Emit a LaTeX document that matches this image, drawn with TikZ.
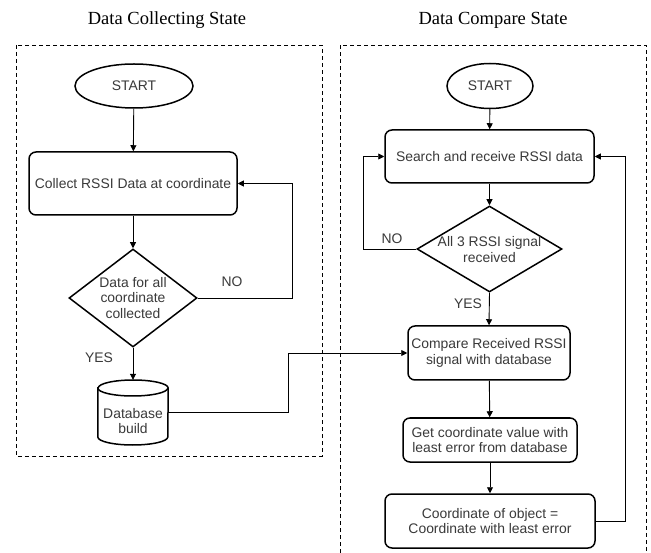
\documentclass[tikz,border=0pt]{standalone}
\usepackage{fontspec}
\setmainfont{Liberation Sans}
\newfontfamily\titlefont{Liberation Serif}
\usetikzlibrary{shapes.geometric,arrows.meta}
\definecolor{txt}{HTML}{3A3A3A}
\begin{document}
\begin{tikzpicture}[x=1pt,y=-1pt,
  every node/.style={font=\fontsize{13.9}{15.5}\selectfont, text=txt},
  term/.style={ellipse, draw=black, line width=1.5pt, inner sep=0pt},
  proc/.style={rectangle, rounded corners=7pt, draw=black, line width=1.5pt, inner sep=0pt, align=center},
  dec/.style={diamond, draw=black, line width=1.5pt, inner sep=0pt},
  lbl/.style={align=center, inner sep=0pt},
  frame/.style={draw=black, line width=0.8pt, dash pattern=on 4pt off 3pt},
  conn/.style={draw=black, line width=0.9pt, -{Triangle[length=6pt,width=6pt]}},
  ttl/.style={font=\titlefont\fontsize{18.5}{20}\selectfont, text=black, inner sep=0pt, anchor=base}
]
\useasboundingbox (0,0) rectangle (651,553);
\fill[white] (0,0) rectangle (651,553);

% titles
\node[ttl] (t1) at (167,25) {Data Collecting State};
\node[ttl] (t2) at (493,25) {Data Compare State};

% frames
\draw[frame] (16,45) rectangle (322,456);
\draw[frame] (340,553) -- (340,45) -- (646,45) -- (646,553);

% ---------- left ----------
\node[term, minimum width=118, minimum height=44] (s1) at (134,86) {START};
\node[proc, minimum width=208, minimum height=63] (c1) at (133,183.5) {Collect RSSI Data at coordinate};
\node[dec, minimum width=128, minimum height=98] (d1) at (133,298) {};
\node[lbl] (d1t) at (133,298) {Data for all\\coordinate\\collected};
\node[minimum width=70, minimum height=65, inner sep=0pt] (db) at (133,412.5) {};
\draw[line width=1.5pt, fill=white] (db.west |- 0,388) -- (db.west |- 0,437)
   arc[start angle=180, end angle=360, x radius=35pt, y radius=8pt]
   -- (db.east |- 0,388)
   arc[start angle=0, end angle=180, x radius=35pt, y radius=8pt] -- cycle;
\draw[line width=1.5pt] (db.west |- 0,388) arc[start angle=180, end angle=360, x radius=35pt, y radius=8pt];
\node[lbl] (dbt) at (133,421) {Database\\build};

\node[lbl] (no1) at (232,282) {NO};
\node[lbl] (yes1) at (99,358) {YES};

\draw[conn] (s1) -- (c1);
\draw[conn] (c1) -- (d1);
\draw[conn] (d1.south) -- (db.north);
\coordinate (n1a) at (292,298);
\coordinate (n1b) at (292,183.5);
\draw[conn] (d1.east) -- (n1a) -- (n1b) -- (c1.east);

% ---------- right ----------
\node[term, minimum width=86, minimum height=45] (s2) at (490,86) {START};
\node[proc, minimum width=209, minimum height=53] (c2) at (489.5,156.5) {Search and receive RSSI data};
\node[dec, minimum width=145, minimum height=86] (d2) at (489.5,249) {};
\node[lbl] (d2t) at (489.5,249.5) {All 3 RSSI signal\\received};
\node[proc, minimum width=162, minimum height=54] (c3) at (489,353) {Compare Received RSSI\\signal with database};
\node[proc, minimum width=174, minimum height=44] (c4) at (490,440) {Get coordinate value with\\least error from database};
\node[proc, minimum width=210, minimum height=54] (c5) at (490,521) {Coordinate of object =\\Coordinate with least error};

\node[lbl] (no2) at (392,239) {NO};
\node[lbl] (yes2) at (468,304) {YES};

\draw[conn] (s2) -- (c2);
\draw[conn] (c2) -- (d2);
\draw[conn] (d2.south) -- (c3.north);
\draw[conn] (c3) -- (c4);
\draw[conn] (c4) -- (c5);
\coordinate (n2a) at (363,249);
\coordinate (n2b) at (363,156.5);
\draw[conn] (d2.west) -- (n2a) -- (n2b) -- (c2.west);
\coordinate (r1) at (625,521);
\coordinate (r2) at (625,156.5);
\draw[conn] (c5.east) -- (r1) -- (r2) -- (c2.east);

% database to compare
\coordinate (x1) at (288,412.5);
\coordinate (x2) at (288,353);
\draw[conn] (db.east) -- (x1) -- (x2) -- (c3.west);
\end{tikzpicture}
\end{document}
